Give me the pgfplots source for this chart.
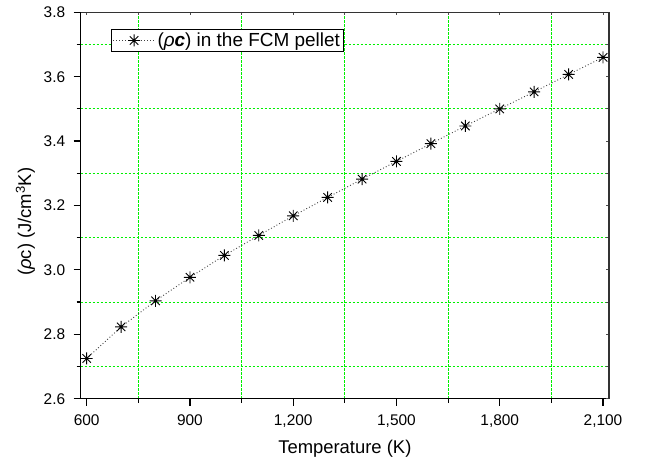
\documentclass[border=0pt]{standalone}
\usepackage{fontspec}
\setmainfont{Liberation Sans}
\usepackage{pgfplots}
\pgfplotsset{compat=1.18}
\pgfdeclareplotmark{ast8}{%
  \pgfpathmoveto{\pgfqpoint{0pt}{\pgfplotmarksize}}%
  \pgfpathlineto{\pgfqpoint{0pt}{-\pgfplotmarksize}}%
  \pgfpathmoveto{\pgfqpoint{\pgfplotmarksize}{0pt}}%
  \pgfpathlineto{\pgfqpoint{-\pgfplotmarksize}{0pt}}%
  \pgfpathmoveto{\pgfqpoint{0.707\pgfplotmarksize}{0.707\pgfplotmarksize}}%
  \pgfpathlineto{\pgfqpoint{-0.707\pgfplotmarksize}{-0.707\pgfplotmarksize}}%
  \pgfpathmoveto{\pgfqpoint{-0.707\pgfplotmarksize}{0.707\pgfplotmarksize}}%
  \pgfpathlineto{\pgfqpoint{0.707\pgfplotmarksize}{-0.707\pgfplotmarksize}}%
  \pgfusepathqstroke}
\definecolor{gridgreen}{RGB}{0,240,0}
\pgfplotstableread{
T rhoc
600 2.725
700 2.823
800 2.904
900 2.977
1000 3.045
1100 3.107
1200 3.168
1300 3.225
1400 3.282
1500 3.337
1600 3.392
1700 3.447
1800 3.500
1900 3.553
2000 3.607
2100 3.660
}\datatable
\begin{document}
\begin{tikzpicture}
\begin{axis}[
  at={(0,0)}, anchor=south west, scale only axis,
  width=528.3bp, height=386.4bp,
  xmin=582.6, xmax=2117.4, ymin=2.6, ymax=3.8,
  axis x line*=bottom, axis y line*=left,
  axis line style={line width=1.3bp, black, -},
  xtick={600,900,1200,1500,1800,2100},
  ytick={2.6,2.8,3.0,3.2,3.4,3.6,3.8},
  minor x tick num=1, minor y tick num=1,
  xminorgrids, yminorgrids,
  minor grid style={color=gridgreen, line width=1bp, dash pattern=on 2.5bp off 1.5bp},
  tick align=outside, major tick length=7bp, minor tick length=4bp,
  tick style={black, line width=1.2bp},
  ticklabel style={font=\fontsize{15.5}{18}\selectfont},
  /pgf/number format/assume math mode=true,
  x tick label style={yshift=-5bp, /pgf/number format/.cd, 1000 sep={,}},
  y tick label style={xshift=-5bp, /pgf/number format/.cd, fixed, fixed zerofill, precision=1},
  xlabel={Temperature (K)},
  ylabel={(\textit{ρ}c) (J/cm\textsuperscript{3}K)},
  label style={font=\fontsize{18.5}{22}\selectfont},
  xlabel style={at={([yshift=-6bp]ticklabel cs:0.5)}},
  ylabel style={at={([xshift=-2bp]ticklabel cs:0.458)}},
  legend style={at={(rel axis cs:0.0574,0.956)}, anchor=north west,
    draw=black, line width=0.8bp, fill=white, inner sep=1.2bp,
    font=\fontsize{19}{21}\selectfont},
  legend cell align=left,
  legend image code/.code={%
    \draw[mark repeat=2, mark phase=2, #1] plot coordinates {(0bp,0bp) (21bp,0bp) (42bp,0bp)};},
]
\addplot[black!75, line width=0.9bp, dash pattern=on 0.9bp off 2.2bp,
  mark=ast8, mark size=6bp, mark options={solid, black, line width=0.9bp}]
  table[x=T, y=rhoc] {\datatable};
\addlegendentry{(\textit{ρ}\textbf{\textit{c}}) in the FCM pellet}
\end{axis}
\begin{axis}[
  at={(0,0)}, anchor=south west, scale only axis,
  width=528.3bp, height=386.4bp,
  xmin=582.6, xmax=2117.4, ymin=2.6, ymax=3.8,
  axis x line*=top, axis y line*=right,
  x axis line style={line width=1bp, black!80, -},
  y axis line style={line width=2bp, black!80, -},
  xtick={600,900,1200,1500,1800,2100},
  ytick={2.6,2.8,3.0,3.2,3.4,3.6,3.8},
  minor x tick num=1, minor y tick num=1,
  xticklabels={}, yticklabels={},
  tick align=inside, major tick length=3bp, minor tick length=3bp,
  tick style={black!70, line width=0.8bp},
]
\end{axis}
\pgfresetboundingbox
\path[use as bounding box] (-80.7bp,-63.3bp) rectangle (569.3bp,398.7bp);
\end{tikzpicture}
\end{document}
